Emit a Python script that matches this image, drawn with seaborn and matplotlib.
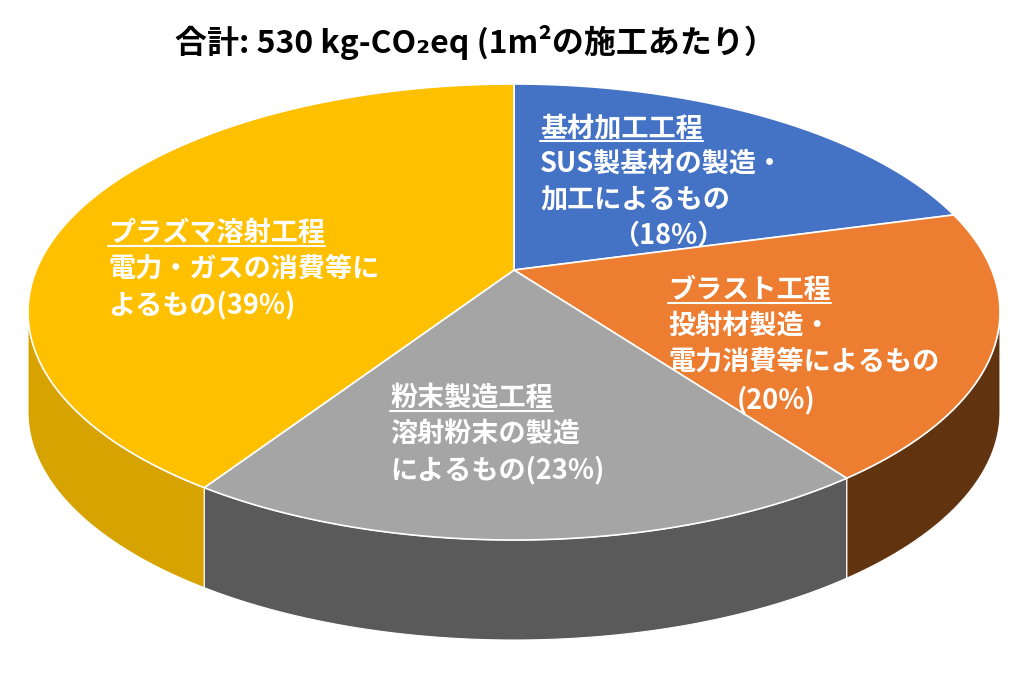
import numpy as np
import matplotlib
matplotlib.use("Agg")
import matplotlib.pyplot as plt
import seaborn as sns

sns.set_theme(style="white")
plt.rcParams['font.family'] = ['Noto Sans CJK JP', 'DejaVu Sans']

categories = ["基材加工工程", "ブラスト工程", "粉末製造工程", "プラズマ溶射工程"]
values = [18, 20, 23, 39]
top_colors = ["#4472C4", "#ED7D31", "#A5A5A5", "#FFC000"]
wall_colors = ["#2F528F", "#62330F", "#5A5A5A", "#D6A300"]
title = "合計: 530 kg-CO₂eq (1m²の施工あたり）"
label_lines = [
    ["SUS製基材の製造・", "加工によるもの"],
    ["投射材製造・", "電力消費等によるもの"],
    ["溶射粉末の製造", "によるもの(23%)"],
    ["電力・ガスの消費等に", "よるもの(39%)"],
]

fig = plt.figure(figsize=(10.24, 6.82), dpi=100)
ax = fig.add_axes([0, 0, 1, 1])
ax.set_xlim(0, 1024)
ax.set_ylim(682, 0)
ax.axis("off")

cx, cy, rx, ry = 514, 312, 486, 228
apex = (514, 270)
depth = 100

def pt(a):
    r = np.radians(a)
    return cx + rx * np.cos(r), cy - ry * np.sin(r)

fr = np.array(values) / sum(values)
starts = 90 - 360 * np.concatenate([[0], np.cumsum(fr)[:-1]])
ends = starts - 360 * fr

for s, e, wc in zip(starts, ends, wall_colors):
    a = np.linspace(s, e, 200)
    a = a[(np.mod(a, 360) >= 180)]
    if len(a) < 2:
        continue
    xs, ys = pt(a)
    px = np.concatenate([xs, xs[::-1]])
    py = np.concatenate([ys, ys[::-1] + depth])
    ax.fill(px, py, color=wc, ec="white", lw=0.8, zorder=1)

for s, e, tc in zip(starts, ends, top_colors):
    a = np.linspace(s, e, 200)
    xs, ys = pt(a)
    px = np.concatenate([[apex[0]], xs])
    py = np.concatenate([[apex[1]], ys])
    ax.fill(px, py, color=tc, ec="white", lw=1.2, zorder=2)

ax.text(475, 42, title, ha="center", va="center", fontsize=23, fontweight="bold", color="black")

fs = 19.5
def underline_text(x, y, s):
    t = ax.text(x, y, s, ha="left", va="center", fontsize=fs, color="white", fontweight="bold", zorder=5)
    fig.canvas.draw()
    bb = t.get_window_extent().transformed(ax.transData.inverted())
    ax.plot([bb.x0, bb.x1], [max(bb.y0, bb.y1) - 1] * 2, color="white", lw=1.5, zorder=5)

heads = [(540, 128), (668, 290), (390, 398), (108, 233)]
for (x, y), cat, lines in zip(heads, categories, label_lines):
    underline_text(x, y, cat)
    for i, ln in enumerate(lines):
        ax.text(x, y + 36 * (i + 1), ln, ha="left", va="center", fontsize=fs,
                color="white", fontweight="bold", zorder=5)

ax.text(668, 235, "（18%）", ha="center", va="center", fontsize=fs, color="white", fontweight="bold")
ax.text(776, 400, "(20%)", ha="center", va="center", fontsize=fs, color="white", fontweight="bold")

fig.savefig("out.png", dpi=100)
